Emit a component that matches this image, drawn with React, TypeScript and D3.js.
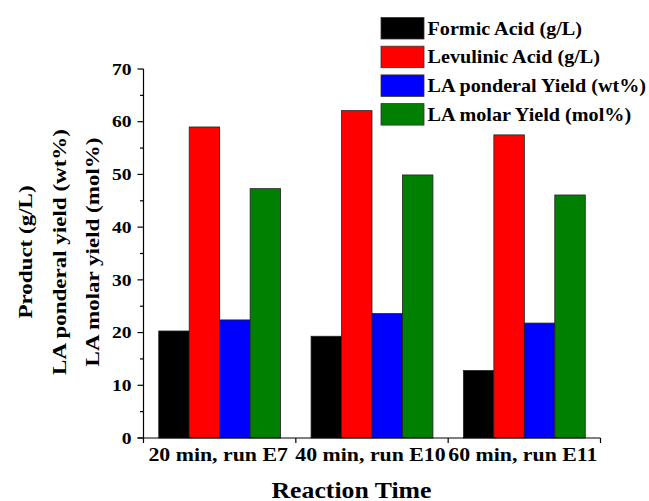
import React from "react";
import * as d3 from "d3";

const categories = ["20 min, run E7", "40 min, run E10", "60 min, run E11"];
const seriesNames = [
  "Formic Acid (g/L)",
  "Levulinic Acid (g/L)",
  "LA ponderal Yield (wt%)",
  "LA molar Yield (mol%)",
];
const seriesColors = ["#000000", "#ff0000", "#0000ff", "#008000"];
const formicAcid = [20.3, 19.3, 12.8];
const levulinicAcid = [59.0, 62.1, 57.5];
const ponderalYield = [22.4, 23.6, 21.8];
const molarYield = [47.3, 49.9, 46.1];
const yTicks = [0, 10, 20, 30, 40, 50, 60, 70];
const yMinorTicks = [5, 15, 25, 35, 45, 55, 65];
const yLabelLines = ["Product (g/L)", "LA ponderal yield (wt%)", "LA molar yield (mol%)"];
const xTitle = "Reaction Time";

const seriesValues = [formicAcid, levulinicAcid, ponderalYield, molarYield];

const W = 649;
const H = 501;
const left = 143.5;
const right = 600.5;
const top = 69;
const bottom = 438;
const FONT = "'Liberation Serif', 'Times New Roman', serif";
const SX = 1.12;

function T(props: {
  x: number;
  y: number;
  size: number;
  anchor?: "start" | "middle" | "end";
  rotate?: number;
  sx?: number;
  dy?: string;
  children: React.ReactNode;
}) {
  const { x, y, size, anchor = "start", rotate = 0, sx = SX, dy, children } = props;
  return (
    <g transform={`translate(${x},${y}) rotate(${rotate}) scale(${sx},1)`}>
      <text
        x={0}
        y={0}
        dy={dy}
        textAnchor={anchor}
        fontFamily={FONT}
        fontWeight="bold"
        fontSize={size}
        fill="#000"
      >
        {children}
      </text>
    </g>
  );
}

export default function App() {
  const x0 = d3.scaleBand<string>().domain(categories).range([left, right]).paddingInner(0).paddingOuter(0);
  const inner = d3
    .scaleBand<number>()
    .domain(d3.range(seriesNames.length))
    .range([0, x0.bandwidth()])
    .paddingInner(0)
    .paddingOuter(0.5);
  const y = d3.scaleLinear().domain([0, 70]).range([bottom, top]);
  const boundaries = [left, ...categories.map((c) => (x0(c) as number) + x0.bandwidth())];
  const yMid = 252;

  return (
    <svg width={W} height={H} style={{ position: "absolute", left: 0, top: 0, background: "#fff" }}>
      <rect x={0} y={0} width={W} height={H} fill="#fff" />
      {/* bars */}
      {categories.map((c, ci) => (
        <g key={c}>
          {seriesValues.map((vals, si) => (
            <rect
              key={si}
              x={(x0(c) as number) + (inner(si) as number)}
              y={y(vals[ci])}
              width={inner.bandwidth()}
              height={bottom - y(vals[ci])}
              fill={seriesColors[si]}
              stroke="#222"
              strokeWidth={0.8}
            />
          ))}
        </g>
      ))}
      {/* y axis */}
      <line x1={left} x2={left} y1={top} y2={bottom} stroke="#000" strokeWidth={1.2} />
      {yTicks.map((t) => (
        <g key={t}>
          <line x1={left - 6} x2={left} y1={y(t)} y2={y(t)} stroke="#000" strokeWidth={1.2} />
          <T x={131.5} y={y(t)} size={17.5} anchor="end" dy="0.33em">
            {t}
          </T>
        </g>
      ))}
      {yMinorTicks.map((t) => (
        <line key={t} x1={left - 3.5} x2={left} y1={y(t)} y2={y(t)} stroke="#000" strokeWidth={1.2} />
      ))}
      {/* x axis */}
      <line x1={left - 6} x2={right} y1={bottom} y2={bottom} stroke="#000" strokeWidth={1.2} />
      {boundaries.map((b, i) => (
        <line key={i} x1={b} x2={b} y1={bottom} y2={bottom + 5} stroke="#000" strokeWidth={1.2} />
      ))}
      {categories.map((c) => (
        <T key={c} x={(x0(c) as number) + x0.bandwidth() / 2 - 1.5} y={461} size={19.5} anchor="middle">
          {c}
        </T>
      ))}
      <T x={351.5} y={497.5} size={23} anchor="middle">
        {xTitle}
      </T>
      {/* y title */}
      {yLabelLines.map((l, i) => (
        <T key={l} x={32 + i * 33.5} y={yMid} size={19.5} anchor="middle" rotate={-90} sx={1.18}>
          {l}
        </T>
      ))}
      {/* legend */}
      {seriesNames.map((n, i) => (
        <g key={n}>
          <rect
            x={381}
            y={17.5 + i * 28.7}
            width={43}
            height={21.5}
            fill={seriesColors[i]}
            stroke="#333"
            strokeWidth={0.8}
          />
          <T x={427.5} y={17.5 + i * 28.7 + 10.75 + 6.3} size={18.5} sx={1.09}>
            {n}
          </T>
        </g>
      ))}
    </svg>
  );
}
